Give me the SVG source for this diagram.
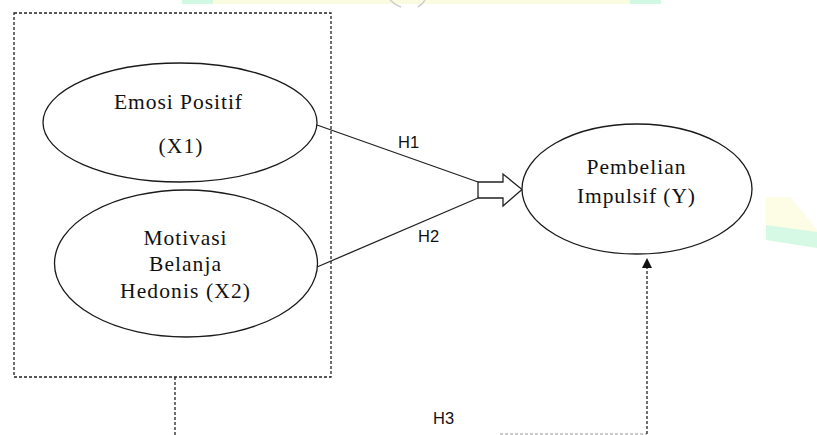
<svg xmlns="http://www.w3.org/2000/svg" width="817" height="435" viewBox="0 0 817 435">
  <style>
    .node { fill: #ffffff; stroke: #1a1a1a; stroke-width: 1.3; }
    .lbl { font-family: "Liberation Serif", "Times New Roman", serif; font-size: 21.5px; fill: #111; text-anchor: middle; }
    .h { font-family: "Liberation Sans", Arial, sans-serif; font-size: 16.5px; fill: #111; }
    .solid { stroke: #222; stroke-width: 1.3; fill: none; }
    .dash { stroke: #222; stroke-width: 1.3; fill: none; stroke-dasharray: 3 2; }
    .head { fill: #111; stroke: none; }
  </style>
  <rect width="817" height="435" fill="#ffffff"/>

  <!-- faint background watermark -->
  <g id="watermark" opacity="0.9">
    <rect x="182" y="0" width="479" height="4" fill="#fafcdc"/>
    <rect x="182" y="0" width="31" height="4" fill="#cdf8df"/>
    <rect x="630" y="0" width="31" height="4" fill="#cdf8df"/>
    <path d="M390 0 Q 395 5 401 7 M 418 7 Q 423 4 425 0" stroke="#c8c8c8" stroke-width="1.5" fill="none"/>
    <polygon points="766,197 790,197 817,230 817,248 766,240" fill="#fcfde2"/>
    <polygon points="766,225 817,232 817,248 766,240" fill="#d2f9e4"/>
  </g>

  <!-- grouping box -->
  <g id="group-box">
    <rect x="14" y="13" width="317" height="364" class="dash"/>
  </g>

  <g id="connectors">
    <line x1="317" y1="125" x2="478" y2="182" class="solid"/>
    <line x1="317" y1="267" x2="478" y2="198" class="solid"/>
    <polygon points="478,182 503,182 503,174 522,189.5 503,206 503,198 478,198" fill="#ffffff" stroke="#222" stroke-width="1.3"/>
    <line x1="175" y1="377" x2="175" y2="435" class="dash"/>
    <line x1="500" y1="434" x2="647" y2="434" stroke="#9a9a9a" stroke-width="1.2" stroke-dasharray="3 2"/>
    <line x1="647" y1="434" x2="647" y2="267" class="dash" stroke-dasharray="2.5 1.5"/>
    <polygon points="642,268 647,258 652,268" class="head"/>
    <text x="398" y="148" class="h">H1</text>
    <text x="418" y="242" class="h">H2</text>
    <text x="433" y="424" class="h">H3</text>
  </g>

  <g id="x1">
    <ellipse cx="180" cy="122.5" rx="137" ry="59.5" class="node"/>
    <text x="178" y="109" class="lbl" textLength="128" lengthAdjust="spacing">Emosi Positif</text>
    <text x="180.5" y="153" class="lbl" textLength="44" lengthAdjust="spacing">(X1)</text>
  </g>

  <g id="x2">
    <ellipse cx="186" cy="263.5" rx="131.5" ry="73.5" class="node"/>
    <text x="185" y="245" class="lbl" textLength="83" lengthAdjust="spacing">Motivasi</text>
    <text x="185" y="271" class="lbl" textLength="72" lengthAdjust="spacing">Belanja</text>
    <text x="185" y="298" class="lbl" textLength="130" lengthAdjust="spacing">Hedonis (X2)</text>
  </g>

  <g id="y">
    <ellipse cx="637" cy="189" rx="115" ry="65" class="node"/>
    <text x="636" y="174" class="lbl" textLength="99" lengthAdjust="spacing">Pembelian</text>
    <text x="636" y="203" class="lbl" textLength="118" lengthAdjust="spacing">Impulsif (Y)</text>
  </g>
</svg>
